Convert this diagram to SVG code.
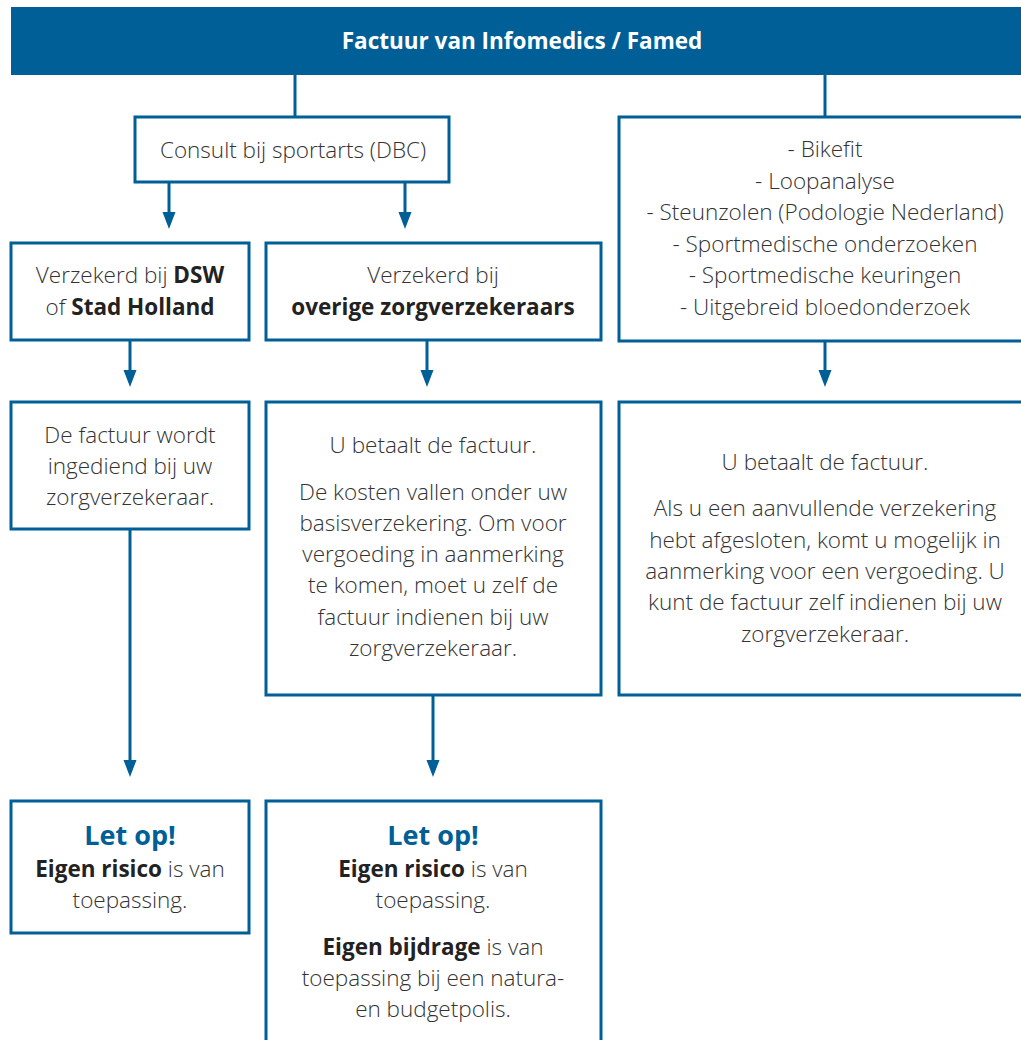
<svg xmlns="http://www.w3.org/2000/svg" width="1021" height="1040" viewBox="0 0 1021 1040">
<defs>
<style>
.box{fill:#fff;stroke:#005f96;stroke-width:3}
.ln{fill:none;stroke:#005f96;stroke-width:3}
.ah{fill:#005f96}
.t{font-family:"Open Sans","Noto Sans",sans-serif;font-weight:300;font-size:22.5px;fill:#333;text-anchor:middle}
.b{font-weight:700;fill:#222}
.hd{font-family:"Open Sans","Noto Sans",sans-serif;font-weight:700;font-size:22.5px;fill:#fff;text-anchor:middle}
.lo{font-family:"Open Sans","Noto Sans",sans-serif;font-weight:700;font-size:27px;fill:#005f96;text-anchor:middle}
</style>
</defs>
<g id="connectors">
<line class="ln" x1="295" y1="75" x2="295" y2="116"/>
<line class="ln" x1="825" y1="75" x2="825" y2="116"/>
<line class="ln" x1="169" y1="182" x2="169" y2="214"/>
<path class="ah" d="M162.5,212 L175.5,212 L169,229 Z"/>
<line class="ln" x1="405" y1="182" x2="405" y2="214"/>
<path class="ah" d="M398.5,212 L411.5,212 L405,229 Z"/>
<line class="ln" x1="130" y1="340" x2="130" y2="372"/>
<path class="ah" d="M123.5,370 L136.5,370 L130,387 Z"/>
<line class="ln" x1="427" y1="340" x2="427" y2="372"/>
<path class="ah" d="M420.5,370 L433.5,370 L427,387 Z"/>
<line class="ln" x1="825" y1="341" x2="825" y2="372"/>
<path class="ah" d="M818.5,370 L831.5,370 L825,387 Z"/>
<line class="ln" x1="130" y1="529" x2="130" y2="762"/>
<path class="ah" d="M123.5,760 L136.5,760 L130,777 Z"/>
<line class="ln" x1="433" y1="695" x2="433" y2="762"/>
<path class="ah" d="M426.5,760 L439.5,760 L433,777 Z"/>
</g>
<g id="header">
<rect x="11" y="7" width="1012" height="68" fill="#005f96"/>
<text class="hd" x="522" y="49">Factuur van Infomedics / Famed</text>
</g>
<g id="consult">
<rect class="box" x="135" y="117" width="314" height="65"/>
<text class="t" x="293" y="158">Consult bij sportarts (DBC)</text>
</g>
<g id="services">
<rect class="box" x="619" y="117" width="410" height="224"/>
<text class="t" x="825" y="157">- Bikefit</text>
<text class="t" x="825" y="189">- Loopanalyse</text>
<text class="t" x="825" y="220">- Steunzolen (Podologie Nederland)</text>
<text class="t" x="825" y="252">- Sportmedische onderzoeken</text>
<text class="t" x="825" y="283">- Sportmedische keuringen</text>
<text class="t" x="825" y="315">- Uitgebreid bloedonderzoek</text>
</g>
<g id="dsw">
<rect class="box" x="11" y="243" width="238" height="97"/>
<text class="t" x="130" y="283">Verzekerd bij <tspan class="b">DSW</tspan></text>
<text class="t" x="130" y="315">of <tspan class="b">Stad Holland</tspan></text>
</g>
<g id="overige">
<rect class="box" x="266" y="243" width="335" height="97"/>
<text class="t" x="433" y="283">Verzekerd bij</text>
<text class="t b" x="433" y="315">overige zorgverzekeraars</text>
</g>
<g id="ingediend">
<rect class="box" x="11" y="402" width="238" height="127"/>
<text class="t" x="130" y="443">De factuur wordt</text>
<text class="t" x="130" y="474">ingediend bij uw</text>
<text class="t" x="130" y="505">zorgverzekeraar.</text>
</g>
<g id="betaalt1">
<rect class="box" x="266" y="402" width="335" height="293"/>
<text class="t" x="433" y="453">U betaalt de factuur.</text>
<text class="t" x="433" y="500">De kosten vallen onder uw</text>
<text class="t" x="433" y="531">basisverzekering. Om voor</text>
<text class="t" x="433" y="562">vergoeding in aanmerking</text>
<text class="t" x="433" y="593">te komen, moet u zelf de</text>
<text class="t" x="433" y="625">factuur indienen bij uw</text>
<text class="t" x="433" y="656">zorgverzekeraar.</text>
</g>
<g id="betaalt2">
<rect class="box" x="619" y="402" width="410" height="293"/>
<text class="t" x="825" y="470">U betaalt de factuur.</text>
<text class="t" x="825" y="516">Als u een aanvullende verzekering</text>
<text class="t" x="825" y="548">hebt afgesloten, komt u mogelijk in</text>
<text class="t" x="825" y="579">aanmerking voor een vergoeding. U</text>
<text class="t" x="825" y="610">kunt de factuur zelf indienen bij uw</text>
<text class="t" x="825" y="642">zorgverzekeraar.</text>
</g>
<g id="letop1">
<rect class="box" x="11" y="801" width="238" height="132"/>
<text class="lo" x="130" y="845">Let op!</text>
<text class="t" x="130" y="877"><tspan class="b">Eigen risico</tspan> is van</text>
<text class="t" x="130" y="908">toepassing.</text>
</g>
<g id="letop2">
<rect class="box" x="266" y="801" width="335" height="250"/>
<text class="lo" x="433" y="845">Let op!</text>
<text class="t" x="433" y="877"><tspan class="b">Eigen risico</tspan> is van</text>
<text class="t" x="433" y="908">toepassing.</text>
<text class="t" x="433" y="955"><tspan class="b">Eigen bijdrage</tspan> is van</text>
<text class="t" x="433" y="986">toepassing bij een natura-</text>
<text class="t" x="433" y="1017">en budgetpolis.</text>
</g>
</svg>
